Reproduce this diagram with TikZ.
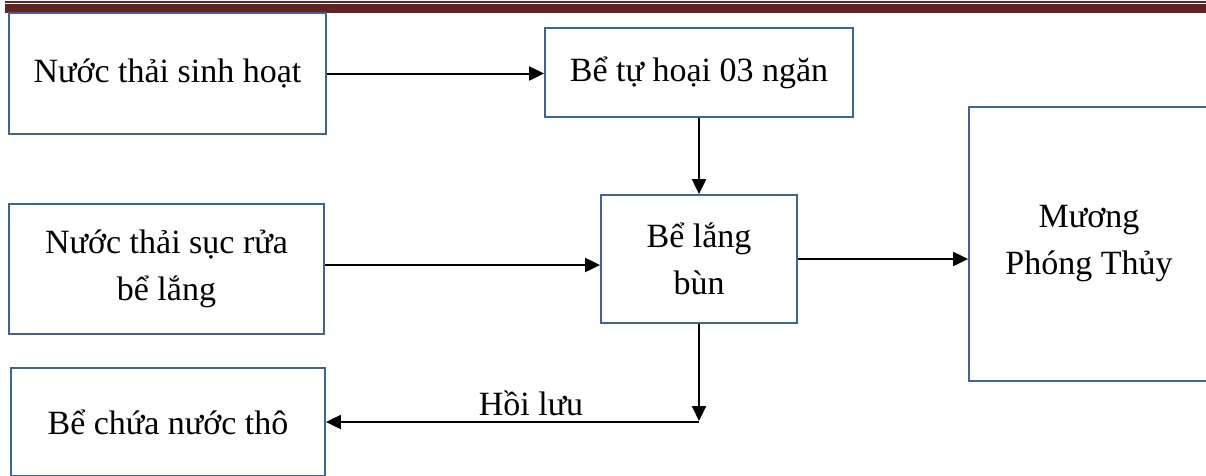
\documentclass[tikz,border=0pt]{standalone}
\usepackage{fontspec}
\setmainfont{Liberation Serif}
\usetikzlibrary{arrows.meta,calc}
\definecolor{boxline}{HTML}{3F6496}
\definecolor{rule}{HTML}{622423}
\tikzset{
  stage/.style={draw=boxline, line width=1.8pt, fill=white, inner sep=0pt,
    align=center, font=\fontsize{34}{47}\selectfont},
  flow/.style={draw=black, line width=2pt, -{Triangle[length=15pt,width=14pt]}},
  plain/.style={draw=black, line width=2pt},
  caption/.style={font=\fontsize{34}{47}\selectfont, inner sep=0pt, anchor=base}
}
\begin{document}
\begin{tikzpicture}[x=1pt, y=-1pt]
  \useasboundingbox (0,0) rectangle (1206,475);

  % header rules
  \fill[rule] (5,1) rectangle (1206,2.7);
  \fill[rule] (5,4) rectangle (1206,12.7);

  % process boxes
  \node[stage, minimum width=317pt, minimum height=121pt] (b1) at (167.5,73.5) {Nước thải sinh hoạt};
  \node[stage, minimum width=308pt, minimum height=89pt] (b2) at (699,72.5) {Bể tự hoại 03 ngăn};
  \node[stage, minimum width=315pt, minimum height=130pt] (b5) at (166.5,269) {Nước thải sục rửa\\bể lắng};
  \node[stage, minimum width=196pt, minimum height=128pt] (b4) at (699,259) {Bể lắng\\bùn};
  \node[stage, minimum width=240pt, minimum height=274pt] (b3) at (1089,244) {Mương\\Phóng Thủy};
  \node[stage, minimum width=314pt, minimum height=108pt] (b6) at (168,422) {Bể chứa nước thô};

  % connectors
  \draw[flow] (b1.east) -- (b1.east -| b2.west);
  \draw[flow] (b2.south) -- (b4.north);
  \draw[flow] ([yshift=4pt]b5.east) -- ([yshift=4pt]b5.east -| b4.west);
  \draw[flow] (b4.east) -- (b4.east -| b3.west);
  \coordinate (turn) at (b4.south |- b6.east);
  \draw[flow] (b4.south) -- ([yshift=1pt]turn);
  \draw[flow] (turn) -- (b6.east);
  \node[caption] (ret) at (531,415) {Hồi lưu};
\end{tikzpicture}
\end{document}
